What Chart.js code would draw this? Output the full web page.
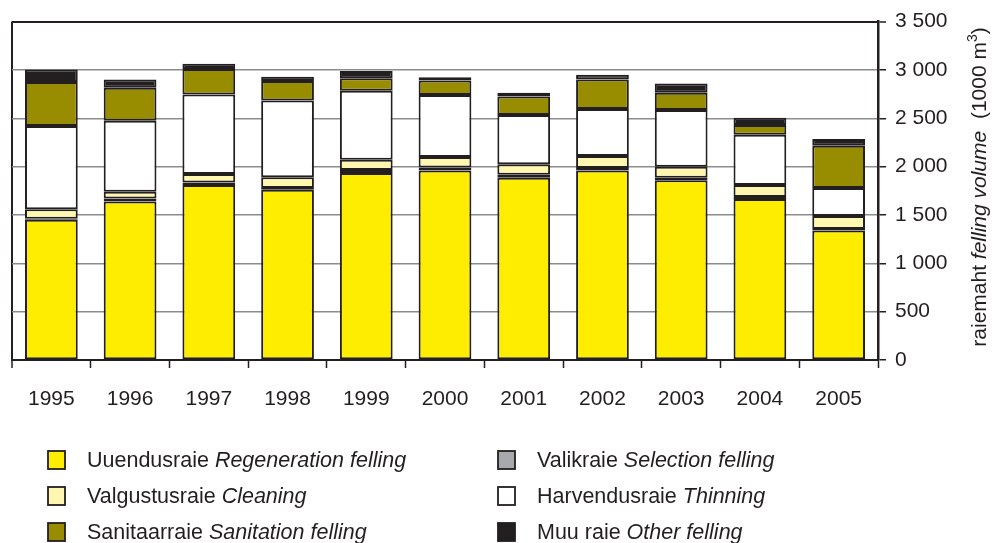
<!DOCTYPE html>
<html>
<head>
<meta charset="utf-8">
<script src="https://cdn.jsdelivr.net/npm/chart.js@4.4.1/dist/chart.umd.min.js"></script>
<style>
  html, body { margin: 0; padding: 0; background: #ffffff; }
  canvas { display: block; }
</style>
</head>
<body>
<canvas id="c" width="1000" height="543"></canvas>
<script>
// ---- data ----
const years = ['1995','1996','1997','1998','1999','2000','2001','2002','2003','2004','2005'];
const regeneration = [1450, 1640, 1810, 1760, 1935, 1960, 1885, 1960, 1860, 1665, 1340];
const selection    = [10, 30, 25, 20, 30, 30, 30, 25, 25, 20, 15];
const cleaning     = [100, 70, 90, 110, 105, 110, 110, 125, 115, 125, 135];
const thinning     = [860, 735, 820, 795, 715, 640, 510, 485, 585, 520, 290];
const sanitation   = [455, 340, 265, 200, 130, 150, 190, 305, 180, 100, 437];
const other        = [130, 85, 55, 45, 75, 35, 40, 50, 95, 75, 68];

const namesEt = ['Uuendusraie', 'Valikraie', 'Valgustusraie', 'Harvendusraie', 'Sanitaarraie', 'Muu raie'];
const namesEn = ['Regeneration felling', 'Selection felling', 'Cleaning', 'Thinning', 'Sanitation felling', 'Other felling'];

const yMin = 0, yMax = 3500, yStep = 500;
const axisTitle = ['raiemaht ', 'felling volume', '  (1000 m', '3', ')'];

// ---- style ----
const FONT = '"Liberation Sans", Arial, Helvetica, sans-serif';
const DARK = '#231f20';
const GRID = '#8c8c8c';
const colors = ['#ffed00', '#a7a9ac', '#fff6b0', '#ffffff', '#988d00', '#231f20'];
const seriesValues = [regeneration, selection, cleaning, thinning, sanitation, other];
// legend slots: [column, row]
const legendSlots = [[0,0],[1,0],[0,1],[1,1],[0,2],[1,2]];

const datasets = seriesValues.map((vals, i) => ({
  label: namesEt[i] + ' ' + namesEn[i],
  data: vals,
  backgroundColor: colors[i],
  borderColor: DARK,
  borderWidth: 2,
  borderSkipped: false,
  barPercentage: 0.67,
  categoryPercentage: 1.0
}));

function fmt(v) {
  if (v >= 1000) {
    const th = Math.floor(v / 1000);
    const rest = String(v % 1000).padStart(3, '0');
    return th + ' ' + rest;
  }
  return String(v);
}

const decorPlugin = {
  id: 'decor',
  afterDraw(chart) {
    const ctx = chart.ctx;
    ctx.save();
    // legend
    chart.data.datasets.forEach((ds, i) => {
      const [col, row] = legendSlots[i];
      const x = col === 0 ? 48 : 498;
      const yc = 460 + row * 36;
      ctx.fillStyle = ds.backgroundColor;
      ctx.fillRect(x, yc - 9, 17, 18);
      ctx.lineWidth = 1.8;
      ctx.strokeStyle = DARK;
      ctx.strokeRect(x, yc - 9, 17, 18);
      ctx.fillStyle = DARK;
      ctx.textBaseline = 'middle';
      ctx.textAlign = 'left';
      ctx.font = '21.5px ' + FONT;
      const t1 = namesEt[i] + ' ';
      ctx.fillText(t1, x + 39, yc + 1);
      const w1 = ctx.measureText(t1).width;
      ctx.font = 'italic 21.5px ' + FONT;
      ctx.fillText(namesEn[i], x + 39 + w1, yc + 1);
    });
    // rotated axis title
    const parts = [
      { t: axisTitle[0], f: '21px ' + FONT, dy: 0 },
      { t: axisTitle[1], f: 'italic 21px ' + FONT, dy: 0 },
      { t: axisTitle[2], f: '21px ' + FONT, dy: 0 },
      { t: axisTitle[3], f: '14px ' + FONT, dy: -9 },
      { t: axisTitle[4], f: '21px ' + FONT, dy: 0 }
    ];
    let total = 0;
    parts.forEach(p => { ctx.font = p.f; p.w = ctx.measureText(p.t).width; total += p.w; });
    ctx.translate(986, 187);
    ctx.rotate(-Math.PI / 2);
    ctx.textBaseline = 'alphabetic';
    ctx.fillStyle = DARK;
    let cx = -total / 2;
    parts.forEach(p => { ctx.font = p.f; ctx.fillText(p.t, cx, p.dy); cx += p.w; });
    ctx.restore();
  }
};

new Chart(document.getElementById('c'), {
  type: 'bar',
  data: { labels: years, datasets },
  plugins: [decorPlugin],
  options: {
    responsive: false,
    animation: false,
    layout: { padding: { left: 12, top: 18, right: 0, bottom: 0 } },
    plugins: { legend: { display: false }, tooltip: { enabled: false } },
    scales: {
      x: {
        stacked: true,
        offset: true,
        afterFit(scale) { scale.height = 183; },
        grid: {
          offset: true,
          drawOnChartArea: true,
          color: (c) => c.index === 0 ? DARK : 'rgba(0,0,0,0)',
          lineWidth: (c) => c.index === 0 ? 2 : 1,
          tickColor: DARK,
          tickWidth: 1.5,
          tickLength: 8
        },
        border: { display: true, color: DARK, width: 2 },
        ticks: { color: DARK, font: { family: FONT, size: 21 }, padding: 19, maxRotation: 0 }
      },
      y: {
        stacked: true,
        position: 'right',
        min: yMin, max: yMax,
        afterFit(scale) { scale.width = 122; },
        grid: {
          color: (c) => c.tick && c.tick.value === yMax ? DARK : (c.tick && c.tick.value === 0 ? DARK : GRID),
          lineWidth: (c) => c.tick && c.tick.value === yMax ? 2 : 1.5,
          tickColor: DARK,
          tickWidth: 1.5,
          tickLength: 8
        },
        border: { display: true, color: DARK, width: 2.5 },
        ticks: {
          stepSize: yStep,
          color: DARK,
          font: { family: FONT, size: 21 },
          padding: 9,
          callback: (v) => fmt(v)
        }
      }
    }
  }
});
</script>
</body>
</html>
